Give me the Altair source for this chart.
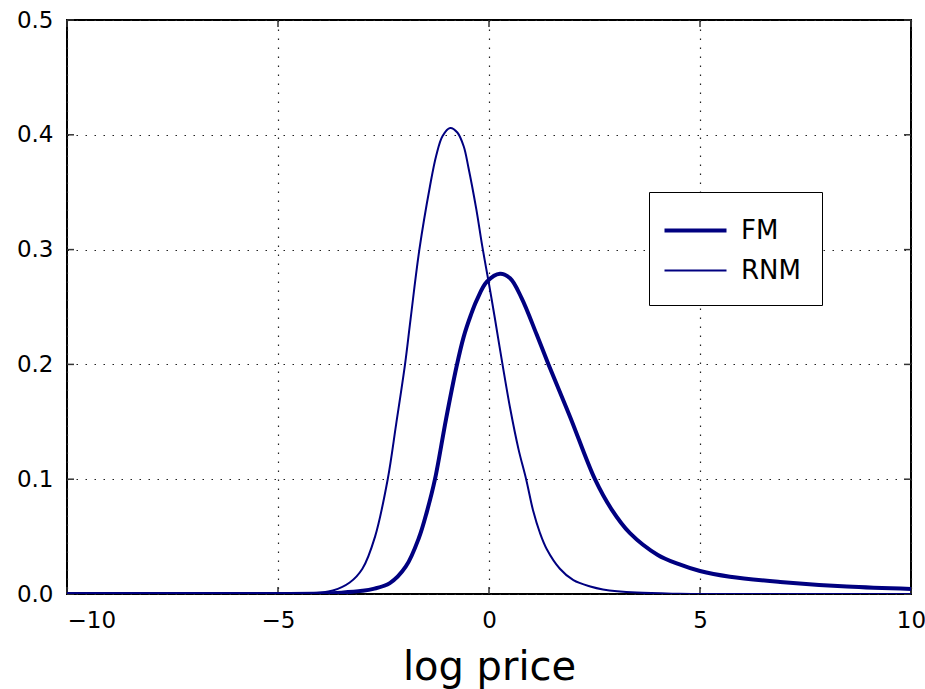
import altair as alt
import pandas as pd

# ---- data ----
x_fm = [-10, -5, -4.0, -3.5, -3.0, -2.74, -2.35, -1.97, -1.66, -1.47, -1.28, -1.02, -0.77, -0.6, -0.43, -0.29, -0.05, 0.26, 0.5, 0.77, 1.13, 1.41, 1.92, 2.51, 2.9, 3.34, 4.0, 4.5, 5.0, 5.71, 6.9, 8.48, 10]
y_fm = [0, 0, 0.0004, 0.0012, 0.0028, 0.0045, 0.0095, 0.024, 0.049, 0.072, 0.10, 0.152, 0.198, 0.224, 0.243, 0.256, 0.272, 0.279, 0.275, 0.258, 0.226, 0.20, 0.1545, 0.10, 0.074, 0.053, 0.034, 0.026, 0.020, 0.015, 0.0105, 0.0065, 0.0044]

x_rnm = [-10, -5.5, -4.5, -4.0, -3.7, -3.3, -3.0, -2.7, -2.4, -2.2, -1.99, -1.86, -1.65, -1.4, -1.25, -1.1, -0.92, -0.75, -0.6, -0.49, -0.3, -0.16, 0.0, 0.14, 0.32, 0.5, 0.7, 0.88, 1.05, 1.2, 1.37, 1.68, 2.0, 2.4, 2.7, 3.5, 4.5, 5.5, 10]
y_rnm = [0, 0, 0.0003, 0.0012, 0.003, 0.010, 0.022, 0.050, 0.10, 0.148, 0.20, 0.239, 0.30, 0.355, 0.382, 0.399, 0.406, 0.402, 0.39, 0.372, 0.335, 0.303, 0.270, 0.240, 0.20, 0.162, 0.126, 0.10, 0.072, 0.054, 0.039, 0.022, 0.012, 0.0065, 0.004, 0.0012, 0.0002, 0, 0]

series = ["FM", "RNM"]
x_ticks = [-10, -5, 0, 5, 10]
y_ticks = [0.0, 0.1, 0.2, 0.3, 0.4, 0.5]

W, H = 844, 574
NAVY = "#000080"
FONT = "DejaVu Sans"

rows = [{"x": a, "y": b, "s": "FM"} for a, b in zip(x_fm, y_fm)] + \
       [{"x": a, "y": b, "s": "RNM"} for a, b in zip(x_rnm, y_rnm)]
df = pd.DataFrame(rows)

xs = alt.Scale(domain=[-10, 10], nice=False)
ys = alt.Scale(domain=[0, 0.5], nice=False)

lines = alt.Chart(df).mark_line(interpolate="catmull-rom", clip=True).encode(
    x=alt.X("x:Q", scale=xs, title="log price",
            axis=alt.Axis(values=x_ticks, format="d", grid=True, ticks=False, domain=False,
                          labelFontSize=23, labelPadding=15, labelColor="black",
                          labelAlign={"condition": {"test": "datum.value == -10", "value": "left"}, "value": "center"},
                          titleFontSize=40, titleFontWeight="normal", titlePadding=15, titleColor="black")),
    y=alt.Y("y:Q", scale=ys, title=None,
            axis=alt.Axis(values=y_ticks, format=".1f", grid=True, ticks=False, domain=False,
                          labelFontSize=23, labelPadding=14, labelColor="black")),
    color=alt.Color("s:N", scale=alt.Scale(domain=series, range=[NAVY, NAVY]),
                    legend=alt.Legend(title=None, orient="none", legendX=582, legendY=172,
                                      symbolType="M-2,0H2", symbolSize=961, symbolOffset=8,
                                      labelFontSize=26, labelOffset=28, rowPadding=10, padding=21,
                                      strokeColor="black", fillColor="white", labelColor="black")),
    strokeWidth=alt.StrokeWidth("s:N", scale=alt.Scale(domain=series, range=[4, 2]), legend=None),
    detail="s:N",
)

tdf_x = pd.DataFrame({"t": x_ticks})
tdf_y = pd.DataFrame({"t": y_ticks})
tick_col = "#333333"
bt = alt.Chart(tdf_x).mark_rule(color=tick_col, strokeWidth=1.5).encode(
    x=alt.X("t:Q", scale=xs), y=alt.value(H), y2=alt.value(H - 7))
tt = alt.Chart(tdf_x).mark_rule(color=tick_col, strokeWidth=1.5).encode(
    x=alt.X("t:Q", scale=xs), y=alt.value(0), y2=alt.value(7))
lt = alt.Chart(tdf_y).mark_rule(color=tick_col, strokeWidth=1.5).encode(
    y=alt.Y("t:Q", scale=ys), x=alt.value(0), x2=alt.value(7))
rt = alt.Chart(tdf_y).mark_rule(color=tick_col, strokeWidth=1.5).encode(
    y=alt.Y("t:Q", scale=ys), x=alt.value(W), x2=alt.value(W - 7))

chart = alt.layer(bt, tt, lt, rt, lines).properties(
    width=W, height=H,
    autosize=alt.AutoSizeParams(type="none"),
    padding={"left": 67, "top": 20, "right": 14, "bottom": 95},
    background="white",
).configure_view(
    stroke="black", strokeWidth=2
).configure_axis(
    gridColor="#222222", gridDash=[1.5, 7.5], gridWidth=1.2, gridOpacity=1,
    labelFont=FONT, titleFont=FONT
).configure_legend(
    labelFont=FONT
)

chart.save("out.html", embed_options={"renderer": "svg", "actions": False})
